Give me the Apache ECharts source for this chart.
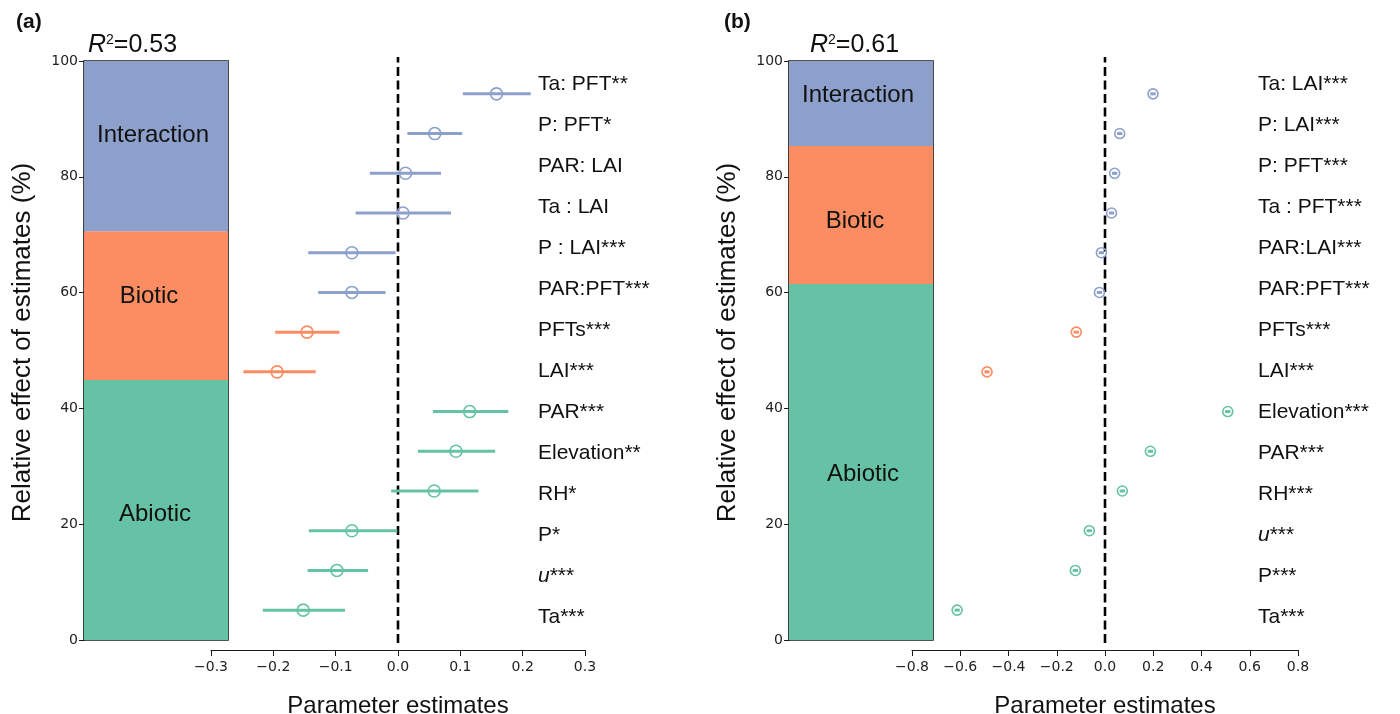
<!DOCTYPE html>
<html><head><meta charset="utf-8">
<script src="https://cdn.jsdelivr.net/npm/echarts@6/dist/echarts.min.js"></script>
<style>html,body{margin:0;padding:0;background:#fff}#c{width:1400px;height:714px}</style>
</head><body><div id="c"></div>
<script>
// ---------- data ----------
const groupNames = ['Abiotic', 'Biotic', 'Interaction'];
const groupColors = ['#66C2A5', '#FC8D62', '#8DA0CB'];

// relative effect (%) of Abiotic, Biotic, Interaction
const shareA = [44.9, 25.7, 29.4];
const shareB = [61.5, 23.8, 14.7];
const r2A = '0.53';
const r2B = '0.61';

// panel (a) terms, top to bottom
const termsA = ['Ta: PFT**', 'P: PFT*', 'PAR: LAI', 'Ta : LAI', 'P : LAI***', 'PAR:PFT***', 'PFTs***', 'LAI***', 'PAR***', 'Elevation**', 'RH*', 'P*', 'u***', 'Ta***'];
const groupOfTermA = [2, 2, 2, 2, 2, 2, 1, 1, 0, 0, 0, 0, 0, 0];
const estA = [0.158, 0.059, 0.012, 0.008, -0.074, -0.074, -0.146, -0.194, 0.115, 0.093, 0.058, -0.074, -0.098, -0.152];
const lowA = [0.104, 0.015, -0.045, -0.068, -0.144, -0.128, -0.197, -0.248, 0.056, 0.032, -0.011, -0.143, -0.145, -0.217];
const highA = [0.213, 0.103, 0.069, 0.085, -0.004, -0.020, -0.094, -0.132, 0.177, 0.156, 0.129, -0.001, -0.048, -0.085];

// panel (b) terms, top to bottom
const termsB = ['Ta: LAI***', 'P: LAI***', 'P: PFT***', 'Ta : PFT***', 'PAR:LAI***', 'PAR:PFT***', 'PFTs***', 'LAI***', 'Elevation***', 'PAR***', 'RH***', 'u***', 'P***', 'Ta***'];
const groupOfTermB = [2, 2, 2, 2, 2, 2, 1, 1, 0, 0, 0, 0, 0, 0];
const estB = [0.199, 0.061, 0.040, 0.027, -0.015, -0.023, -0.119, -0.489, 0.509, 0.188, 0.072, -0.065, -0.123, -0.613];
const lowB = [0.188, 0.050, 0.029, 0.016, -0.026, -0.034, -0.130, -0.500, 0.498, 0.177, 0.061, -0.076, -0.134, -0.624];
const highB = [0.210, 0.072, 0.051, 0.038, -0.004, -0.012, -0.108, -0.478, 0.520, 0.199, 0.083, -0.054, -0.112, -0.602];

const yTickRange = { min: 0, max: 100, interval: 20 };
const xRangeA = { min: -0.3, max: 0.3, interval: 0.1 };
const xRangeB = { min: -0.8, max: 0.8, interval: 0.2 };
const refValue = 0;

// ---------- styling ----------
const FONT = '"Liberation Sans", Arial, sans-serif';
const TICKFONT = '"DejaVu Sans", sans-serif';
const INK = '#111';

const option = { animation: false, grid: [], xAxis: [], yAxis: [], series: [], title: [] };

function fmtTick(v) {
  const r = Math.round(v * 10) / 10;
  if (Math.abs(r) < 1e-9) return '0.0';
  return (r < 0 ? '\u2212' : '') + Math.abs(r).toFixed(1);
}

function mkGrid(o) {
  return Object.assign({ outerBoundsMode: 'none', containLabel: false }, o);
}

function addPanel(P) {
  const g = option.grid.length;
  // 0: stacked bar grid
  option.grid.push(mkGrid({ left: P.barLeft, top: 61, width: 144, height: 579, show: true, borderColor: '#1a1a1a', borderWidth: 1.6, backgroundColor: 'transparent' }));
  option.xAxis.push({ gridIndex: g, type: 'category', data: ['share'], show: false });
  option.yAxis.push({
    gridIndex: g, type: 'value', min: yTickRange.min, max: yTickRange.max, interval: yTickRange.interval,
    axisLine: { show: true, lineStyle: { color: '#1a1a1a', width: 1.2 } },
    axisTick: { show: true, length: 5, lineStyle: { color: '#1a1a1a', width: 1 } },
    splitLine: { show: false },
    axisLabel: { fontFamily: TICKFONT, fontSize: 14, color: '#222', margin: 6 },
    name: 'Relative effect of estimates (%)', nameLocation: 'middle', nameGap: 48,
    nameTextStyle: { fontFamily: FONT, fontSize: 26, color: INK, padding: [0, 0, 0, 16] }
  });
  for (let i = 0; i < 3; i++) {
    option.series.push({
      type: 'bar', xAxisIndex: g, yAxisIndex: g, stack: 'share' + g, data: [P.share[i]], barWidth: '100%',
      itemStyle: { color: groupColors[i] }, silent: true,
      label: { show: true, position: 'inside', formatter: groupNames[i], fontFamily: FONT, fontSize: 24, color: INK, offset: P.barLabelOffsets[i] }
    });
  }

  // 1: estimates grid (points + error bars)
  option.grid.push(mkGrid({ left: P.estLeft, top: 74, width: P.estWidth, height: 556 }));
  option.xAxis.push({ gridIndex: g + 1, type: 'value', min: P.xr.min, max: P.xr.max, show: false });
  option.yAxis.push({ gridIndex: g + 1, type: 'category', data: P.terms, inverse: true, show: false });
  const data = P.terms.map((t, i) => [P.low[i], P.high[i], P.est[i], i, P.grp[i]]);
  option.series.push({
    type: 'custom', xAxisIndex: g + 1, yAxisIndex: g + 1, data: data, silent: true, z: 3,
    encode: { x: [0, 1, 2], y: 3 },
    renderItem: function (params, api) {
      const idx = api.value(3);
      const col = groupColors[api.value(4)];
      const a = api.coord([api.value(0), idx]);
      const b = api.coord([api.value(1), idx]);
      const c = api.coord([api.value(2), idx]);
      return {
        type: 'group', children: [
          { type: 'line', shape: { x1: a[0], y1: a[1], x2: b[0], y2: b[1] }, style: { stroke: col, lineWidth: 3 } },
          { type: 'circle', shape: { cx: c[0], cy: c[1], r: P.markerR }, style: { fill: 'none', stroke: col, lineWidth: 1.6 } }
        ]
      };
    }
  });

  // 2: axis grid (x axis at y=650 + reference line ending at ~643)
  option.grid.push(mkGrid({ left: P.estLeft, top: 57, width: P.estWidth, height: 593 }));
  option.xAxis.push({
    gridIndex: g + 2, type: 'value', min: P.xr.min, max: P.xr.max, interval: P.xr.interval,
    axisLine: { show: true, onZero: false, lineStyle: { color: '#1a1a1a', width: 1.2 } },
    axisTick: { show: true, length: 6, lineStyle: { color: '#1a1a1a', width: 1 } },
    splitLine: { show: false },
    axisLabel: { fontFamily: TICKFONT, fontSize: 14, color: '#222', margin: 10, formatter: fmtTick },
    name: 'Parameter estimates', nameLocation: 'middle', nameGap: 44,
    nameTextStyle: { fontFamily: FONT, fontSize: 24, color: INK }
  });
  option.yAxis.push({ gridIndex: g + 2, type: 'value', min: -0.012, max: 1, show: false });
  option.series.push({
    type: 'line', xAxisIndex: g + 2, yAxisIndex: g + 2, data: [[refValue, 0], [refValue, 1]], symbol: 'none', silent: true,
    lineStyle: { color: '#000', width: 2.6, type: [9, 4.5] }, z: 1
  });

  // 3: term label grid
  option.grid.push(mkGrid({ left: P.estLeft, top: 64, width: P.estWidth, height: 574 }));
  option.xAxis.push({ gridIndex: g + 3, type: 'value', show: false });
  option.yAxis.push({
    gridIndex: g + 3, type: 'category', data: P.terms, inverse: true, position: 'right', offset: P.labelOffset,
    axisLine: { show: false }, axisTick: { show: false }, splitLine: { show: false },
    axisLabel: {
      margin: 0, align: 'left', fontFamily: FONT, fontSize: 21, color: INK, interval: 0,
      formatter: v => v.charAt(0) === 'u' ? '{i|u}' + v.slice(1) : v,
      rich: { i: { fontFamily: FONT, fontSize: 21, fontStyle: 'italic', color: INK } }
    }
  });

  option.title.push({ left: P.tagLeft, top: 7, text: P.tag, textStyle: { fontFamily: FONT, fontSize: 21, fontWeight: 'bold', color: INK } });
  option.title.push({
    left: P.r2Left, top: 28, text: '{i|R}{s|2}{n|=' + P.r2 + '}',
    textStyle: {
      fontWeight: 'normal',
      rich: {
        i: { fontFamily: FONT, fontSize: 25, fontStyle: 'italic', fontWeight: 'normal', color: INK, verticalAlign: 'middle' },
        s: { fontFamily: FONT, fontSize: 14, fontWeight: 'normal', color: INK, verticalAlign: 'middle', padding: [0, 0, 10, 0] },
        n: { fontFamily: FONT, fontSize: 25, fontWeight: 'normal', color: INK, verticalAlign: 'middle' }
      }
    }
  });
}

addPanel({
  tag: '(a)', tagLeft: 11, r2: r2A, r2Left: 83,
  barLeft: 84, share: shareA, barLabelOffsets: [[-1, 4], [-7, -9], [-3, -11]],
  estLeft: 211, estWidth: 374, xr: xRangeA, markerR: 6,
  terms: termsA, grp: groupOfTermA, est: estA, low: lowA, high: highA, labelOffset: -47
});
addPanel({
  tag: '(b)', tagLeft: 719, r2: r2B, r2Left: 805,
  barLeft: 789, share: shareB, barLabelOffsets: [[2, 12], [-6, 6], [-3, -8]],
  estLeft: 912, estWidth: 386, xr: xRangeB, markerR: 5,
  terms: termsB, grp: groupOfTermB, est: estB, low: lowB, high: highB, labelOffset: -40
});

const chart = echarts.init(document.getElementById('c'), null, { renderer: 'canvas' });
chart.setOption(option);
</script>
</body></html>
